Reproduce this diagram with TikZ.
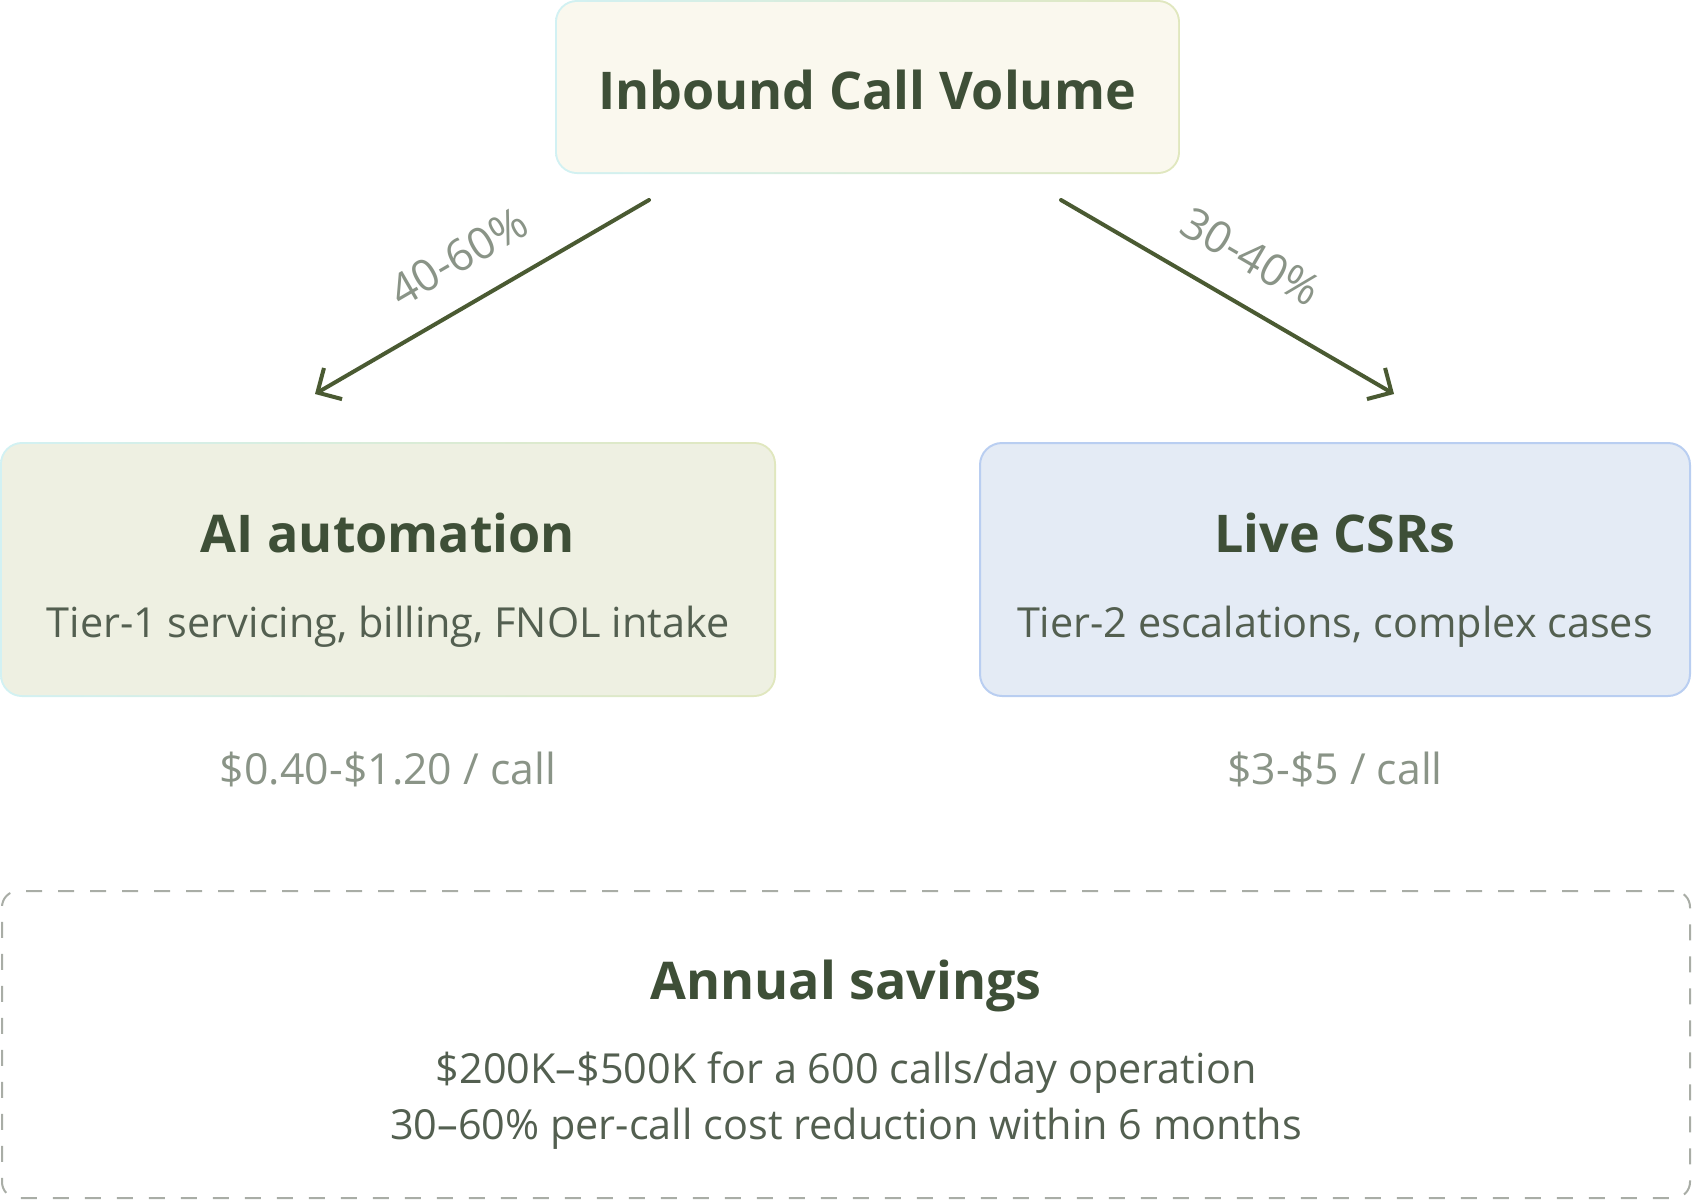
\documentclass[tikz,border=0pt]{standalone}
\usepackage{fontspec}
\setmainfont{Open Sans}
\usetikzlibrary{arrows.meta,fit}
\definecolor{ink}{HTML}{3E4F37}
\definecolor{subink}{HTML}{535F50}
\definecolor{mute}{HTML}{8A9487}
\definecolor{arrowgreen}{HTML}{4A5A32}
\definecolor{topfill}{HTML}{FAF8EE}
\definecolor{aifill}{HTML}{EEF0E2}
\definecolor{edgecyan}{HTML}{D2F1F3}
\definecolor{edgelime}{HTML}{E0E7BE}
\definecolor{csrfill}{HTML}{E4EBF5}
\definecolor{csrline}{HTML}{B9CEF1}
\definecolor{dashline}{HTML}{A9ADA6}

\begin{document}
\begin{tikzpicture}[x=0.5pt, y=-0.5pt,
    panel/.style={rounded corners=11pt, line width=1pt, inner sep=0pt},
    rim/.style={panel, left color=edgecyan, right color=edgelime},
    core/.style={panel, rounded corners=10pt},
    head/.style={text=ink, font=\fontsize{26}{31}\selectfont\bfseries},
    sub/.style={text=subink, font=\fontsize{20.7}{25}\selectfont},
    cost/.style={text=mute, font=\fontsize{21.4}{25}\selectfont},
    pct/.style={text=mute, font=\fontsize{22}{26}\selectfont, sloped},
    flow/.style={arrowgreen, line width=2pt, line cap=round,
        -{Straight Barb[length=9pt, width=18pt, line width=2pt]}}]

    % Page frame, in pixels of the 1692 x 1200 image
    \useasboundingbox (0,0) rectangle (1692,1200);

    % Source of all calls (shaded rim, then the face inside it)
    \node[rim, fit={(555,0) (1180,174)}] (top) {};
    \node[core, fill=topfill, fit={(557,2) (1178,172)}] (topFace) {};
    \node[head] (topHead) at (867,90) {Inbound Call Volume};

    % The two routes
    \node[rim, fit={(0,442) (776,697)}] (ai) {};
    \node[core, fill=aifill, fit={(2,444) (774,695)}] (aiFace) {};
    \node[head] (aiHead) at (388,533) {AI automation};
    \node[sub] (aiSub) at (388,627) {Tier-1 servicing, billing, FNOL intake};

    \node[panel, draw=csrline, fill=csrfill, fit={(980,443) (1690,696)}] (csr) {};
    \node[head] (csrHead) at (1335,533) {Live CSRs};
    \node[sub] (csrSub) at (1335,627) {Tier-2 escalations, complex cases};

    % Cost per call, under each route
    \node[cost] (aiCost) at (388,769) {\$0.40-\$1.20 / call};
    \node[cost] (csrCost) at (1335,769) {\$3-\$5 / call};

    % Split of the volume
    \coordinate (aiFrom) at (649,200);
    \coordinate (aiTo) at (315,394);
    \coordinate (csrFrom) at (1061,200);
    \coordinate (csrTo) at (1394,394);
    \draw[flow, {Straight Barb[length=9pt, width=18pt, line width=2pt]}-]
        (aiTo) -- node[pct, above=11pt] (aiPct) {40-60\%} (aiFrom);
    \draw[flow] (csrFrom) -- node[pct, above=11pt] (csrPct) {30-40\%} (csrTo);

    % Outcome
    \node[panel, draw=dashline, dash pattern=on 8pt off 8pt,
        rounded corners=8pt, fit={(2,891) (1690,1198)}] (savings) {};
    \node[head] (savHead) at (846,986) {Annual savings};
    \node[sub] (savLineA) at (846,1073) {\$200K–\$500K for a 600 calls/day operation};
    \node[sub] (savLineB) at (846,1129) {30–60\% per-call cost reduction within 6 months};

\end{tikzpicture}
\end{document}
